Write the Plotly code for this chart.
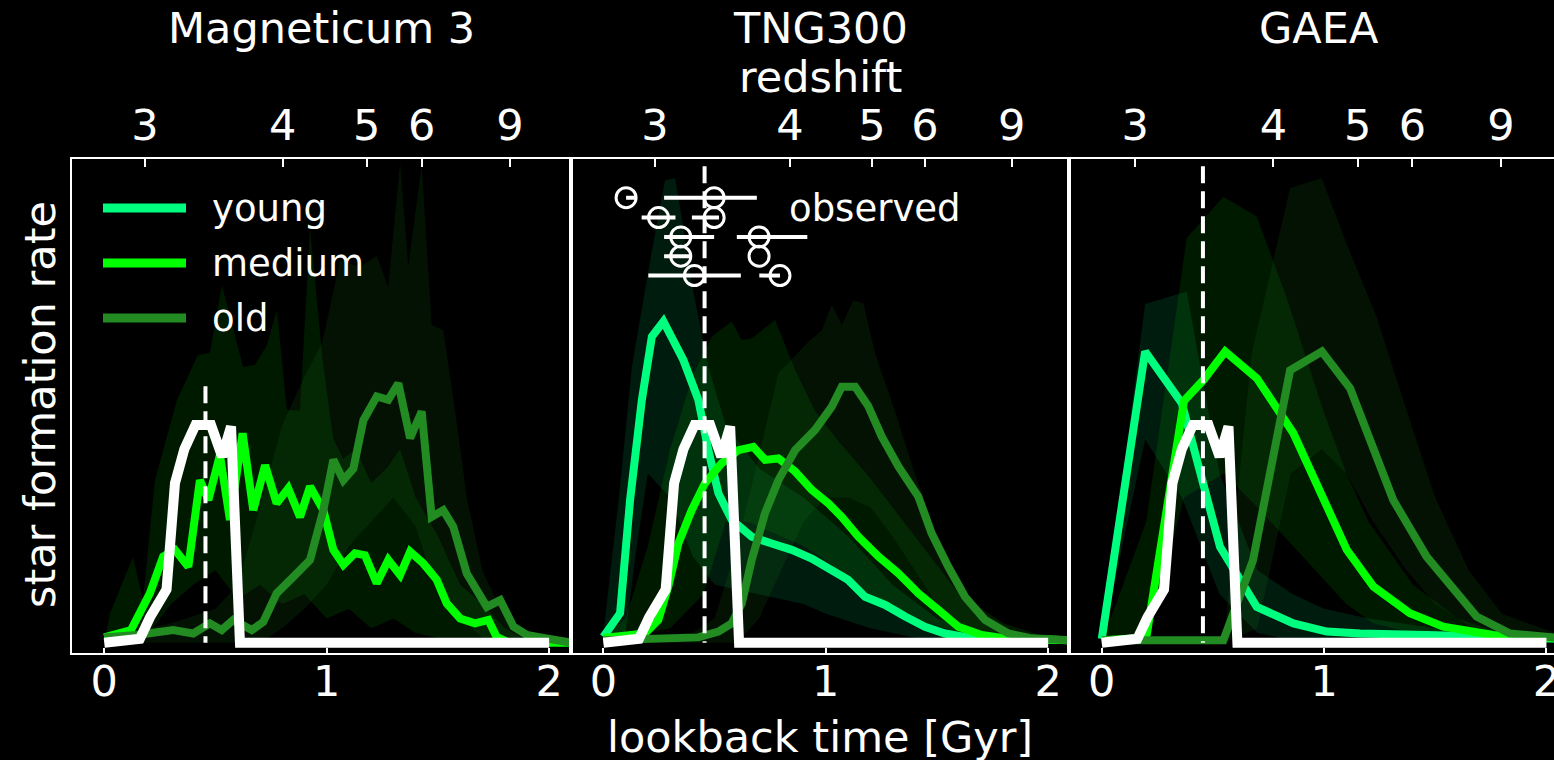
import plotly.graph_objects as go

# ---------------- data ----------------
# observed star formation history (same in every panel)
OBS_T = [0.0, 0.16, 0.205, 0.28, 0.318, 0.36, 0.41, 0.48, 0.53, 0.57, 0.61, 2.0]
OBS_SFR = [0.0, 0.008, 0.052, 0.11, 0.33, 0.40, 0.45, 0.45, 0.385, 0.447, 0.0, 0.0]
OBS_AGE = 0.455
DASH_TOP = [0.53, 0.985, 0.985]

# Magneticum 3
MAG_MED_T = [0.0, 0.12, 0.205, 0.265, 0.318, 0.378, 0.43, 0.468, 0.52, 0.565, 0.622, 0.67, 0.723,
             0.775, 0.827, 0.88, 0.925, 0.985, 1.03, 1.075, 1.127, 1.172, 1.225, 1.277, 1.33, 1.375,
             1.434, 1.495, 1.54, 1.6, 1.667, 1.727, 1.764, 1.82, 2.1]
MAG_MED = [0.011, 0.026, 0.102, 0.178, 0.192, 0.157, 0.336, 0.295, 0.388, 0.254, 0.433, 0.274, 0.367,
           0.288, 0.319, 0.26, 0.323, 0.274, 0.192, 0.161, 0.185, 0.181, 0.123, 0.171, 0.14, 0.188,
           0.164, 0.13, 0.081, 0.05, 0.04, 0.047, 0.012, 0.0, 0.0]
MAG_OLD_T = [0.0, 0.146, 0.31, 0.4, 0.475, 0.528, 0.58, 0.663, 0.715, 0.775, 0.85, 0.925, 0.985, 1.03,
             1.075, 1.12, 1.165, 1.225, 1.277, 1.322, 1.375, 1.427, 1.472, 1.524, 1.569, 1.63, 1.72,
             1.78, 1.84, 1.9, 1.974, 2.1]
MAG_OLD = [0.011, 0.016, 0.026, 0.019, 0.04, 0.026, 0.047, 0.026, 0.043, 0.102, 0.136, 0.171, 0.274,
           0.378, 0.336, 0.36, 0.46, 0.509, 0.502, 0.536, 0.423, 0.478, 0.26, 0.274, 0.24, 0.143,
           0.074, 0.088, 0.033, 0.016, 0.01, 0.0]
MAG_MED_HI_T = [0.0, 0.026, 0.129, 0.174, 0.228, 0.327, 0.421, 0.475, 0.529, 0.624, 0.677, 0.731,
                0.776, 0.821, 0.88, 0.925, 0.983, 1.03, 1.075, 1.13, 1.2, 1.27, 1.33, 1.4, 1.5, 1.6,
                1.7, 1.8, 1.9, 2.1]
MAG_MED_HI = [0.0, 0.061, 0.177, 0.088, 0.336, 0.502, 0.595, 0.599, 0.739, 0.57, 0.574, 0.615,
              0.688, 0.481, 0.48, 0.857, 0.578, 0.42, 0.38, 0.40, 0.33, 0.36, 0.40, 0.30, 0.22, 0.12,
              0.08, 0.03, 0.005, 0.0]
MAG_MED_LO_T = [0.0, 0.2, 0.3, 0.4, 0.5, 0.6, 0.7, 0.8, 0.9, 1.0, 1.1, 1.2, 1.3, 1.4, 1.5, 1.6, 2.1]
MAG_MED_LO = [0.0, 0.02, 0.08, 0.12, 0.15, 0.09, 0.12, 0.08, 0.1, 0.05, 0.07, 0.03, 0.05, 0.02, 0.01,
              0.0, 0.0]
MAG_OLD_HI_T = [0.0, 0.3, 0.5, 0.6, 0.7, 0.8, 0.9, 0.98, 1.06, 1.15, 1.225, 1.277, 1.33, 1.367,
                1.427, 1.472, 1.524, 1.577, 1.63, 1.7, 1.8, 1.9, 2.0, 2.1]
MAG_OLD_HI = [0.01, 0.04, 0.07, 0.12, 0.28, 0.45, 0.55, 0.62, 0.79, 0.777, 0.80, 0.736, 0.994, 0.777,
              0.988, 0.657, 0.646, 0.48, 0.3, 0.15, 0.05, 0.02, 0.005, 0.0]
MAG_OLD_LO_T = [0.0, 0.7, 0.8, 0.9, 1.0, 1.1, 1.2, 1.3, 1.4, 1.5, 1.6, 1.7, 1.8, 2.1]
MAG_OLD_LO = [0.0, 0.0, 0.03, 0.07, 0.12, 0.2, 0.25, 0.3, 0.24, 0.1, 0.05, 0.01, 0.0, 0.0]

# TNG300
TNG_YOUNG_T = [0.0, 0.075, 0.12, 0.173, 0.218, 0.27, 0.36, 0.427, 0.472, 0.517, 0.577, 0.667, 0.757,
               0.847, 0.937, 1.027, 1.10, 1.177, 1.267, 1.357, 1.446, 1.536, 1.626, 1.776, 2.1]
TNG_YOUNG = [0.012, 0.061, 0.295, 0.502, 0.633, 0.664, 0.584, 0.502, 0.398, 0.309, 0.254, 0.219,
             0.205, 0.192, 0.174, 0.147, 0.13, 0.095, 0.078, 0.054, 0.033, 0.019, 0.012, 0.009, 0.005]
TNG_MED_T = [0.0, 0.187, 0.247, 0.292, 0.337, 0.397, 0.457, 0.532, 0.607, 0.674, 0.727, 0.787, 0.862,
             0.937, 1.012, 1.072, 1.147, 1.237, 1.327, 1.416, 1.506, 1.596, 1.701, 1.806, 2.1]
TNG_MED = [0.01, 0.019, 0.047, 0.116, 0.205, 0.274, 0.33, 0.371, 0.398, 0.405, 0.378, 0.381, 0.354,
           0.316, 0.288, 0.26, 0.219, 0.178, 0.143, 0.102, 0.068, 0.033, 0.016, 0.009, 0.005]
TNG_OLD_T = [0.0, 0.277, 0.427, 0.517, 0.577, 0.622, 0.667, 0.727, 0.787, 0.862, 0.952, 1.027, 1.072,
             1.132, 1.19, 1.252, 1.327, 1.416, 1.476, 1.551, 1.626, 1.716, 1.821, 1.926, 2.1]
TNG_OLD = [0.005, 0.007, 0.011, 0.023, 0.04, 0.081, 0.171, 0.268, 0.336, 0.398, 0.44, 0.488, 0.529,
           0.529, 0.49, 0.426, 0.364, 0.302, 0.226, 0.157, 0.095, 0.047, 0.019, 0.009, 0.005]
TNG_YOUNG_HI_T = [0.0, 0.07, 0.128, 0.218, 0.277, 0.322, 0.352, 0.397, 0.472, 0.55, 0.7, 0.9, 1.1,
                  1.3, 1.5, 1.7, 2.1]
TNG_YOUNG_HI = [0.02, 0.3, 0.57, 0.81, 0.956, 0.96, 0.88, 0.743, 0.57, 0.45, 0.36, 0.3, 0.22, 0.12,
                0.05, 0.02, 0.005]
TNG_YOUNG_LO_T = [0.0, 0.1, 0.15, 0.2, 0.3, 0.4, 0.5, 0.7, 0.9, 1.0, 1.2, 1.4, 1.6, 2.1]
TNG_YOUNG_LO = [0.0, 0.02, 0.2, 0.35, 0.3, 0.18, 0.12, 0.1, 0.08, 0.06, 0.03, 0.01, 0.0, 0.0]
TNG_MED_HI_T = [0.0, 0.1, 0.2, 0.3, 0.4, 0.487, 0.577, 0.622, 0.667, 0.772, 0.862, 0.95, 1.05, 1.2,
                1.4, 1.6, 1.8, 2.0, 2.1]
TNG_MED_HI = [0.01, 0.05, 0.2, 0.4, 0.55, 0.633, 0.664, 0.626, 0.629, 0.667, 0.564, 0.48, 0.42, 0.34,
              0.22, 0.1, 0.04, 0.01, 0.0]
TNG_MED_LO_T = [0.0, 0.3, 0.45, 0.55, 0.65, 0.8, 0.9, 1.0, 1.2, 1.4, 1.6, 1.8, 2.1]
TNG_MED_LO = [0.0, 0.03, 0.1, 0.25, 0.25, 0.22, 0.2, 0.17, 0.1, 0.05, 0.02, 0.005, 0.0]
TNG_OLD_HI_T = [0.0, 0.4, 0.5, 0.6, 0.68, 0.787, 0.922, 0.982, 1.027, 1.072, 1.124, 1.169, 1.222,
                1.31, 1.4, 1.5, 1.6, 1.7, 1.8, 1.9, 2.1]
TNG_OLD_HI = [0.01, 0.02, 0.05, 0.2, 0.35, 0.557, 0.622, 0.646, 0.698, 0.657, 0.708, 0.702, 0.598,
              0.48, 0.35, 0.22, 0.12, 0.06, 0.03, 0.01, 0.0]
TNG_OLD_LO_T = [0.0, 0.6, 0.7, 0.8, 0.9, 1.0, 1.1, 1.2, 1.3, 1.4, 1.5, 1.6, 1.7, 1.8, 2.1]
TNG_OLD_LO = [0.0, 0.0, 0.05, 0.15, 0.25, 0.3, 0.3, 0.28, 0.22, 0.15, 0.08, 0.04, 0.01, 0.0, 0.0]

# GAEA
GAEA_YOUNG_T = [0.0, 0.195, 0.36, 0.532, 0.697, 0.862, 1.012, 1.162, 1.46, 1.76, 2.1]
GAEA_YOUNG = [0.008, 0.602, 0.495, 0.198, 0.074, 0.04, 0.023, 0.019, 0.016, 0.012, 0.008]
GAEA_MED_T = [0.0, 0.2, 0.37, 0.457, 0.555, 0.697, 0.862, 0.982, 1.102, 1.222, 1.386, 1.536, 1.76, 2.1]
GAEA_MED = [0.005, 0.01, 0.50, 0.543, 0.602, 0.547, 0.433, 0.309, 0.192, 0.116, 0.061, 0.033, 0.016,
            0.008]
GAEA_OLD_T = [0.0, 0.547, 0.68, 0.847, 0.99, 1.117, 1.311, 1.461, 1.686, 1.836, 2.1]
GAEA_OLD = [0.005, 0.005, 0.17, 0.563, 0.602, 0.526, 0.295, 0.178, 0.054, 0.019, 0.008]
GAEA_YOUNG_HI_T = [0.0, 0.195, 0.382, 0.53, 0.7, 0.86, 1.0, 1.2, 1.5, 2.1]
GAEA_YOUNG_HI = [0.01, 0.70, 0.726, 0.35, 0.15, 0.1, 0.07, 0.05, 0.03, 0.01]
GAEA_YOUNG_LO_T = [0.0, 0.195, 0.36, 0.53, 0.7, 0.86, 1.0, 2.1]
GAEA_YOUNG_LO = [0.0, 0.42, 0.3, 0.1, 0.02, 0.005, 0.0, 0.0]
GAEA_MED_HI_T = [0.0, 0.2, 0.382, 0.547, 0.697, 0.83, 0.996, 1.1, 1.2, 1.4, 1.6, 1.8, 2.1]
GAEA_MED_HI = [0.0, 0.25, 0.836, 0.922, 0.881, 0.715, 0.48, 0.35, 0.25, 0.12, 0.05, 0.02, 0.005]
GAEA_MED_LO_T = [0.0, 0.2, 0.37, 0.55, 0.7, 0.86, 1.0, 1.1, 1.22, 1.4, 1.6, 1.8, 2.1]
GAEA_MED_LO = [0.0, 0.0, 0.3, 0.35, 0.28, 0.2, 0.13, 0.08, 0.04, 0.02, 0.005, 0.0, 0.0]
GAEA_OLD_HI_T = [0.0, 0.55, 0.62, 0.675, 0.847, 0.99, 1.1, 1.236, 1.371, 1.5, 1.65, 1.8, 2.1]
GAEA_OLD_HI = [0.0, 0.0, 0.35, 0.6, 0.94, 0.96, 0.826, 0.674, 0.48, 0.3, 0.15, 0.06, 0.01]
GAEA_OLD_LO_T = [0.0, 0.55, 0.7, 0.85, 0.99, 1.1, 1.22, 1.37, 1.5, 1.7, 1.9, 2.1]
GAEA_OLD_LO = [0.0, 0.0, 0.03, 0.35, 0.4, 0.35, 0.25, 0.15, 0.08, 0.02, 0.0, 0.0]

# observed galaxies (lookback time with asymmetric uncertainties)
OBS_PT_T = [0.102, 0.498, 0.248, 0.498, 0.348, 0.70, 0.348, 0.70, 0.409, 0.794]
OBS_PT_Y = [0.92, 0.92, 0.879, 0.879, 0.839, 0.839, 0.799, 0.799, 0.759, 0.759]
OBS_ERR_MINUS = [0.0, 0.225, 0.076, 0.1, 0.075, 0.10, 0.075, 0.0, 0.207, 0.093]
OBS_ERR_PLUS = [0.04, 0.192, 0.076, 0.022, 0.15, 0.217, 0.05, 0.0, 0.209, 0.0]

# redshift ticks on the top axis of each panel
Z_LABELS = ["3", "4", "5", "6", "9"]
MAG_Z_POS = [0.183, 0.802, 1.18, 1.427, 1.824]
TNG_Z_POS = [0.232, 0.839, 1.207, 1.446, 1.836]
GAEA_Z_POS = [0.15, 0.772, 1.151, 1.397, 1.795]

PANEL_TITLES = ["Magneticum 3", "TNG300", "GAEA"]
LEGEND_LABELS = ["young", "medium", "old"]

# ---------------- styling ----------------
FONT = "DejaVu Sans"
C_YOUNG = "#00FF7F"
C_MED = "#00FF00"
C_OLD = "#228B22"
BAND_YOUNG = "rgba(0,255,127,0.11)"
BAND_MED = "rgba(0,255,0,0.10)"
BAND_OLD = "rgba(34,139,34,0.13)"

W, H = 1554, 760
ML, MR, MT, MB = 72, 0, 159, 107
PW = W - ML - MR
PH = H - MT - MB


def px_x(p):
    return (p - ML) / PW


def px_y(p):
    return (H - MB - p) / PH


DOMAINS = [[0.0, px_x(570.7)], [px_x(570.7), px_x(1069.3)], [px_x(1069.3), 1.0]]
XRANGES = [[-0.145, 2.097], [-0.147, 2.095], [-0.146, 2.034]]
YRANGE = [-0.0213, 1.0]

fig = go.Figure()


def band(ax, tu, hi, tl, lo, color):
    fig.add_trace(go.Scatter(
        x=list(tu) + list(tl)[::-1], y=list(hi) + list(lo)[::-1],
        xaxis=ax[0], yaxis=ax[1], mode="lines", fill="toself",
        fillcolor=color, line=dict(width=0), hoverinfo="skip"))


def curve(ax, t, v, color, width=8):
    fig.add_trace(go.Scatter(
        x=t, y=v, xaxis=ax[0], yaxis=ax[1], mode="lines",
        line=dict(color=color, width=width), hoverinfo="skip"))


AXES = [("x", "y"), ("x2", "y2"), ("x3", "y3")]
TOP_AXES = ["x4", "x5", "x6"]

# bands
band(AXES[0], MAG_MED_HI_T, MAG_MED_HI, MAG_MED_LO_T, MAG_MED_LO, BAND_MED)
band(AXES[0], MAG_OLD_HI_T, MAG_OLD_HI, MAG_OLD_LO_T, MAG_OLD_LO, BAND_OLD)
band(AXES[1], TNG_YOUNG_HI_T, TNG_YOUNG_HI, TNG_YOUNG_LO_T, TNG_YOUNG_LO, BAND_YOUNG)
band(AXES[1], TNG_MED_HI_T, TNG_MED_HI, TNG_MED_LO_T, TNG_MED_LO, BAND_MED)
band(AXES[1], TNG_OLD_HI_T, TNG_OLD_HI, TNG_OLD_LO_T, TNG_OLD_LO, BAND_OLD)
band(AXES[2], GAEA_YOUNG_HI_T, GAEA_YOUNG_HI, GAEA_YOUNG_LO_T, GAEA_YOUNG_LO, BAND_YOUNG)
band(AXES[2], GAEA_MED_HI_T, GAEA_MED_HI, GAEA_MED_LO_T, GAEA_MED_LO, BAND_MED)
band(AXES[2], GAEA_OLD_HI_T, GAEA_OLD_HI, GAEA_OLD_LO_T, GAEA_OLD_LO, BAND_OLD)

# median curves
curve(AXES[0], MAG_MED_T, MAG_MED, C_MED)
curve(AXES[0], MAG_OLD_T, MAG_OLD, C_OLD)
curve(AXES[1], TNG_YOUNG_T, TNG_YOUNG, C_YOUNG)
curve(AXES[1], TNG_MED_T, TNG_MED, C_MED)
curve(AXES[1], TNG_OLD_T, TNG_OLD, C_OLD)
curve(AXES[2], GAEA_YOUNG_T, GAEA_YOUNG, C_YOUNG)
curve(AXES[2], GAEA_MED_T, GAEA_MED, C_MED)
curve(AXES[2], GAEA_OLD_T, GAEA_OLD, C_OLD)

# observed SFH and observation epoch (the epoch line lives on the redshift axis,
# which shares the lookback-time range of its panel)
for i, ax in enumerate(AXES):
    curve(ax, OBS_T, OBS_SFR, "white", width=10)
    fig.add_trace(go.Scatter(
        x=[OBS_AGE, OBS_AGE], y=[DASH_TOP[i], 0.0], xaxis=TOP_AXES[i], yaxis=ax[1],
        mode="lines", line=dict(color="white", width=4, dash="17px,8px"), hoverinfo="skip"))

# observed galaxies in the TNG300 panel
fig.add_trace(go.Scatter(
    x=OBS_PT_T, y=OBS_PT_Y, xaxis="x2", yaxis="y2", mode="markers",
    marker=dict(symbol="circle-open", size=20, color="white", line=dict(width=3, color="white")),
    error_x=dict(type="data", symmetric=False, array=OBS_ERR_PLUS, arrayminus=OBS_ERR_MINUS,
                 color="white", thickness=4, width=0),
    hoverinfo="skip"))

# axes
tickfont = dict(family=FONT, size=43, color="white")
layout_axes = {}
z_pos = [MAG_Z_POS, TNG_Z_POS, GAEA_Z_POS]
for i in range(3):
    sfx = "" if i == 0 else str(i + 1)
    layout_axes["xaxis" + sfx] = dict(
        domain=DOMAINS[i], range=XRANGES[i], anchor="y" + sfx,
        tickvals=[0, 1, 2], ticktext=["0", "1", "2"], ticks="inside", ticklen=5, tickwidth=2,
        tickcolor="white", showline=True, linecolor="white", linewidth=2, mirror=False,
        showgrid=False, zeroline=False, tickfont=tickfont, ticklabelstandoff=-11,
        ticklabeloverflow="allow", automargin=False)
    layout_axes["yaxis" + sfx] = dict(
        domain=[0, 1], range=YRANGE, anchor="x" + sfx, showticklabels=False, ticks="",
        showline=True, linecolor="white", linewidth=2, mirror=(i < 2),
        showgrid=False, zeroline=False, automargin=False)
    layout_axes["xaxis" + str(i + 4)] = dict(
        overlaying="x" + sfx, side="top", anchor="y" + sfx, range=XRANGES[i],
        tickvals=z_pos[i], ticktext=Z_LABELS, ticks="inside", ticklen=8, tickwidth=2,
        tickcolor="white", showline=True, linecolor="white", linewidth=2,
        showgrid=False, zeroline=False, tickfont=tickfont, ticklabelstandoff=0,
        ticklabeloverflow="allow", automargin=False)

annotations = []
title_font = dict(family=FONT, size=43, color="white")
panel_centers = [321.3, 820.0, 1318.7]
for title, cx in zip(PANEL_TITLES, panel_centers):
    annotations.append(dict(text=title, x=px_x(cx), y=px_y(28), xref="paper", yref="paper",
                            xanchor="center", yanchor="middle", showarrow=False, font=title_font))
annotations.append(dict(text="redshift", x=px_x(820), y=px_y(77), xref="paper", yref="paper",
                        xanchor="center", yanchor="middle", showarrow=False, font=title_font))
annotations.append(dict(text="lookback time [Gyr]", x=px_x(820), y=px_y(737), xref="paper",
                        yref="paper", xanchor="center", yanchor="middle", showarrow=False,
                        font=title_font))
annotations.append(dict(text="star formation rate", x=px_x(40), y=px_y(405), xref="paper",
                        yref="paper", xanchor="center", yanchor="middle", textangle=-90,
                        showarrow=False, font=title_font))

# legend, drawn inside the first panel
legend_font = dict(family=FONT, size=37, color="white")
shapes = []
for lab, col, ly in zip(LEGEND_LABELS, [C_YOUNG, C_MED, C_OLD], [208, 263, 318]):
    yd = (H - MB - ly) / PH
    shapes.append(dict(type="line", xref="x domain", yref="y domain",
                       x0=(103 - ML) / (570.7 - ML), x1=(186 - ML) / (570.7 - ML), y0=yd, y1=yd,
                       line=dict(color=col, width=9)))
    annotations.append(dict(text=lab, xref="x domain", yref="y domain",
                            x=(210 - ML) / (570.7 - ML), y=yd, xanchor="left", yanchor="middle",
                            showarrow=False, font=legend_font))
annotations.append(dict(text="observed", xref="x2", yref="y2", x=0.826, y=0.897,
                        xanchor="left", yanchor="middle", showarrow=False, font=legend_font))

fig.update_layout(
    width=W, height=H, margin=dict(l=ML, r=MR, t=MT, b=MB, autoexpand=False),
    paper_bgcolor="black", plot_bgcolor="black", showlegend=False,
    annotations=annotations, shapes=shapes, font=dict(family=FONT, color="white"),
    **layout_axes)

fig.write_html("out.html", config={"displayModeBar": False})
